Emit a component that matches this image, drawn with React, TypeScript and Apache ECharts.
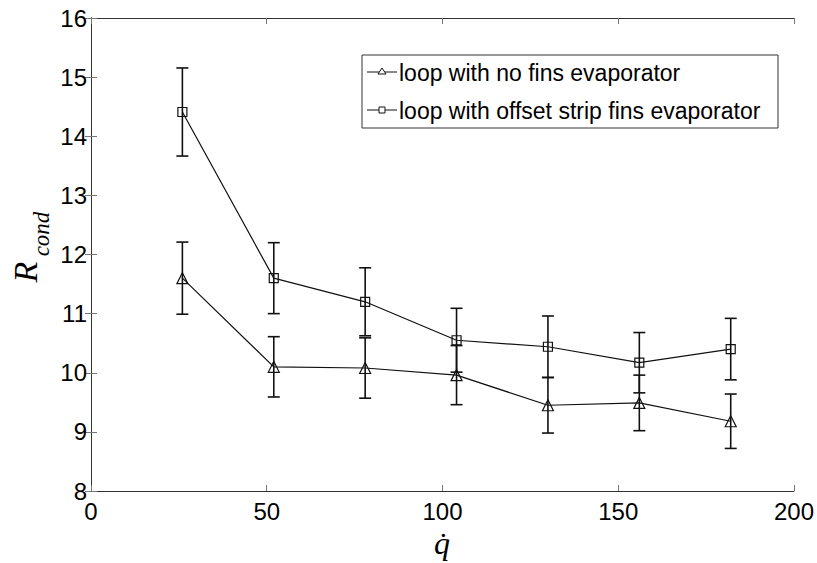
import React, { useEffect, useRef } from "react";
import * as echarts from "echarts";

const qValues = [26, 52, 78, 104, 130, 156, 182];
const noFins = [11.6, 10.1, 10.08, 9.96, 9.45, 9.49, 9.18];
const noFinsErr = [0.61, 0.51, 0.51, 0.5, 0.47, 0.47, 0.46];
const offsetFins = [14.41, 11.6, 11.2, 10.55, 10.44, 10.17, 10.4];
const offsetFinsErr = [0.745, 0.6, 0.575, 0.54, 0.52, 0.51, 0.52];
const xTicks = { min: 0, max: 200, interval: 50 };
const yTicks = { min: 8, max: 16, interval: 1 };
const seriesNames = [
  "loop with no fins evaporator",
  "loop with offset strip fins evaporator",
];

const sans = "'Liberation Sans', Arial, sans-serif";
const serif = "'Liberation Serif', 'Times New Roman', serif";

function errorSeries(vals: number[], errs: number[]) {
  return {
    type: "custom",
    silent: true,
    z: 3,
    data: qValues.map((q, i) => [q, vals[i] - errs[i], vals[i] + errs[i]]),
    renderItem: (params: any, api: any) => {
      const x = api.value(0);
      const lo = api.coord([x, api.value(1)]);
      const hi = api.coord([x, api.value(2)]);
      const w = 6;
      const style = { stroke: "#111", lineWidth: 1.6 };
      return {
        type: "group",
        children: [
          { type: "line", shape: { x1: lo[0], y1: lo[1], x2: hi[0], y2: hi[1] }, style },
          { type: "line", shape: { x1: hi[0] - w, y1: hi[1], x2: hi[0] + w, y2: hi[1] }, style },
          { type: "line", shape: { x1: lo[0] - w, y1: lo[1], x2: lo[0] + w, y2: lo[1] }, style },
        ],
      };
    },
  };
}

export default function App() {
  const ref = useRef<HTMLDivElement>(null);
  useEffect(() => {
    if (!ref.current) return;
    const chart = echarts.init(ref.current, undefined, { renderer: "svg" });
    const axisLine = { show: true, lineStyle: { color: "#333", width: 1 } };
    const axisTick = { show: true, inside: true, length: 6, lineStyle: { color: "#777" } };
    const lineSeries = (name: string, vals: number[], symbol: string) => ({
      name,
      type: "line",
      data: qValues.map((q, i) => [q, vals[i]]),
      symbol,
      symbolSize: symbol === "triangle" ? 11 : 9,
      showSymbol: true,
      lineStyle: { color: "#111", width: 1.2 },
      itemStyle: { color: "rgba(255,255,255,0)", borderColor: "#111", borderWidth: 1.2 },
      z: 4,
    });
    chart.setOption({
      animation: false,
      backgroundColor: "#fff",
      grid: { left: 91, top: 18, right: 22, bottom: 72, containLabel: false },
      xAxis: [
        {
          type: "value",
          ...xTicks,
          axisLine,
          axisTick,
          splitLine: { show: false },
          axisLabel: { fontSize: 24, color: "#000", fontFamily: sans, margin: 8 },
        },
        {
          type: "value",
          position: "top",
          ...xTicks,
          axisLine,
          axisTick,
          splitLine: { show: false },
          axisLabel: { show: false },
        },
      ],
      yAxis: [
        {
          type: "value",
          ...yTicks,
          axisLine,
          axisTick,
          splitLine: { show: false },
          axisLabel: { fontSize: 24, color: "#000", fontFamily: sans, margin: 4 },
        },
        {
          type: "value",
          position: "right",
          ...yTicks,
          axisLine,
          axisTick,
          splitLine: { show: false },
          axisLabel: { show: false },
        },
      ],
      series: [
        errorSeries(noFins, noFinsErr),
        errorSeries(offsetFins, offsetFinsErr),
        lineSeries(seriesNames[0], noFins, "triangle"),
        lineSeries(seriesNames[1], offsetFins, "rect"),
      ],
      graphic: [
        {
          type: "rect",
          shape: { x: 362, y: 55, width: 416, height: 73 },
          style: { fill: "#fff", stroke: "#333", lineWidth: 1 },
          z: 10,
        },
        { type: "line", shape: { x1: 367, y1: 72, x2: 397, y2: 72 }, style: { stroke: "#111", lineWidth: 1 }, z: 11 },
        {
          type: "polygon",
          shape: { points: [[382, 68], [378, 74], [386, 74]] },
          style: { fill: "#fff", stroke: "#111", lineWidth: 1 },
          z: 12,
        },
        {
          type: "text",
          x: 399,
          y: 73,
          style: { text: seriesNames[0], fontSize: 23, fontFamily: sans, fill: "#000", verticalAlign: "middle" },
          z: 12,
        },
        { type: "line", shape: { x1: 367, y1: 110, x2: 397, y2: 110 }, style: { stroke: "#111", lineWidth: 1 }, z: 11 },
        {
          type: "rect",
          shape: { x: 379, y: 107, width: 6, height: 6 },
          style: { fill: "#fff", stroke: "#111", lineWidth: 1 },
          z: 12,
        },
        {
          type: "text",
          x: 399,
          y: 111,
          style: { text: seriesNames[1], fontSize: 23, fontFamily: sans, fill: "#000", verticalAlign: "middle" },
          z: 12,
        },
        {
          type: "text",
          x: 25,
          y: 272,
          rotation: Math.PI / 2,
          style: {
            text: "R",
            fontSize: 34,
            fontStyle: "italic",
            fontFamily: serif,
            fill: "#000",
            align: "center",
            verticalAlign: "middle",
          },
        },
        {
          type: "text",
          x: 41,
          y: 234,
          rotation: Math.PI / 2,
          style: {
            text: "cond",
            fontSize: 23,
            fontStyle: "italic",
            fontFamily: serif,
            fill: "#000",
            align: "center",
            verticalAlign: "middle",
          },
        },
        {
          type: "text",
          x: 442,
          y: 543,
          style: {
            text: "q̇",
            fontSize: 32,
            fontStyle: "italic",
            fontFamily: serif,
            fill: "#000",
            align: "center",
            verticalAlign: "middle",
          },
        },
      ],
    });
    return () => chart.dispose();
  }, []);
  return <div ref={ref} style={{ width: 817, height: 563, position: "absolute", left: 0, top: 0 }} />;
}
